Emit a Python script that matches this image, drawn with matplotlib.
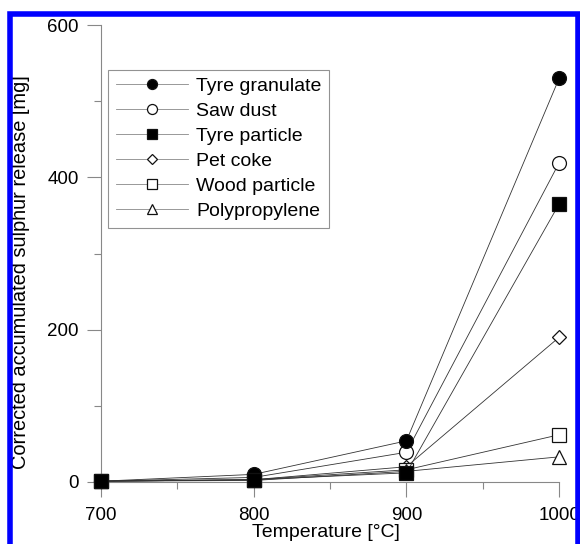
import matplotlib.pyplot as plt
import matplotlib.patches as patches
from matplotlib.ticker import MultipleLocator

plt.rcParams['font.family'] = ['Liberation Sans', 'DejaVu Sans']

# data
temperature = [700, 800, 900, 1000]
tyre_granulate = [1, 10, 54, 530]
saw_dust = [1, 6, 39, 419]
tyre_particle = [1, 3, 12, 365]
pet_coke = [1, 3, 20, 190]
wood_particle = [1, 3, 16, 62]
polypropylene = [1, 2, 14, 33]

series = [
    ("Tyre granulate", tyre_granulate, 'o', 'black'),
    ("Saw dust", saw_dust, 'o', 'white'),
    ("Tyre particle", tyre_particle, 's', 'black'),
    ("Pet coke", pet_coke, 'D', 'white'),
    ("Wood particle", wood_particle, 's', 'white'),
    ("Polypropylene", polypropylene, '^', 'white'),
]
sizes = {'o': 10, 's': 10, 'D': 7, '^': 10}

fig = plt.figure(figsize=(5.8, 5.44), dpi=100)
ax = fig.add_axes([0.174, 0.114, 0.79, 0.84])

# draw open markers first, filled ones on top
order = [1, 3, 4, 5, 0, 2]
handles = {}
for i in order:
    name, vals, m, fc = series[i]
    ln, = ax.plot(temperature, vals, color='#333333', lw=0.6, marker=m,
                  markersize=sizes[m], markerfacecolor=fc,
                  markeredgecolor='#111111', markeredgewidth=0.9,
                  clip_on=False, label=name, zorder=3 if fc == 'black' else 2)
    handles[i] = ln

leg = ax.legend([handles[i] for i in range(6)], [s[0] for s in series],
                loc='upper left', bbox_to_anchor=(0.015, 0.902), fontsize=14,
                frameon=True, fancybox=False, edgecolor='#777777',
                handlelength=3.75, handletextpad=0.4, labelspacing=0.38,
                borderpad=0.4, borderaxespad=0, markerscale=0.72)
leg.get_frame().set_linewidth(0.8)
for ln in leg.get_lines():
    ln.set_color('#888888')
    ln.set_markeredgecolor('#111111')

ax.set_xlim(700, 1000)
ax.set_ylim(0, 600)
ax.xaxis.set_major_locator(MultipleLocator(100))
ax.xaxis.set_minor_locator(MultipleLocator(50))
ax.yaxis.set_major_locator(MultipleLocator(200))
ax.yaxis.set_minor_locator(MultipleLocator(100))

for s in ['top', 'right']:
    ax.spines[s].set_visible(False)
for s in ['left', 'bottom']:
    ax.spines[s].set_color('#888888')
    ax.spines[s].set_linewidth(0.8)

ax.tick_params(which='major', length=10, width=0.8, color='#888888',
               labelsize=13.5, pad=6)
ax.tick_params(which='minor', length=5, width=0.8, color='#888888')
ax.tick_params(axis='x', which='major', length=11, pad=7)

ax.set_xlabel("Temperature [°C]", fontsize=14)
ax.set_ylabel("Corrected accumulated sulphur release [mg]", fontsize=14.4)
ax.xaxis.set_label_coords(0.49, -0.093)
ax.yaxis.set_label_coords(-0.155, 0.46)

# blue frame around the figure
fig.patches.append(patches.Rectangle((10 / 580, -0.05), 568 / 580, 1 - 13.5 / 544 + 0.05,
                                     transform=fig.transFigure, fill=False,
                                     edgecolor='#0000ff', linewidth=4))

fig.savefig("out.png", dpi=100)
